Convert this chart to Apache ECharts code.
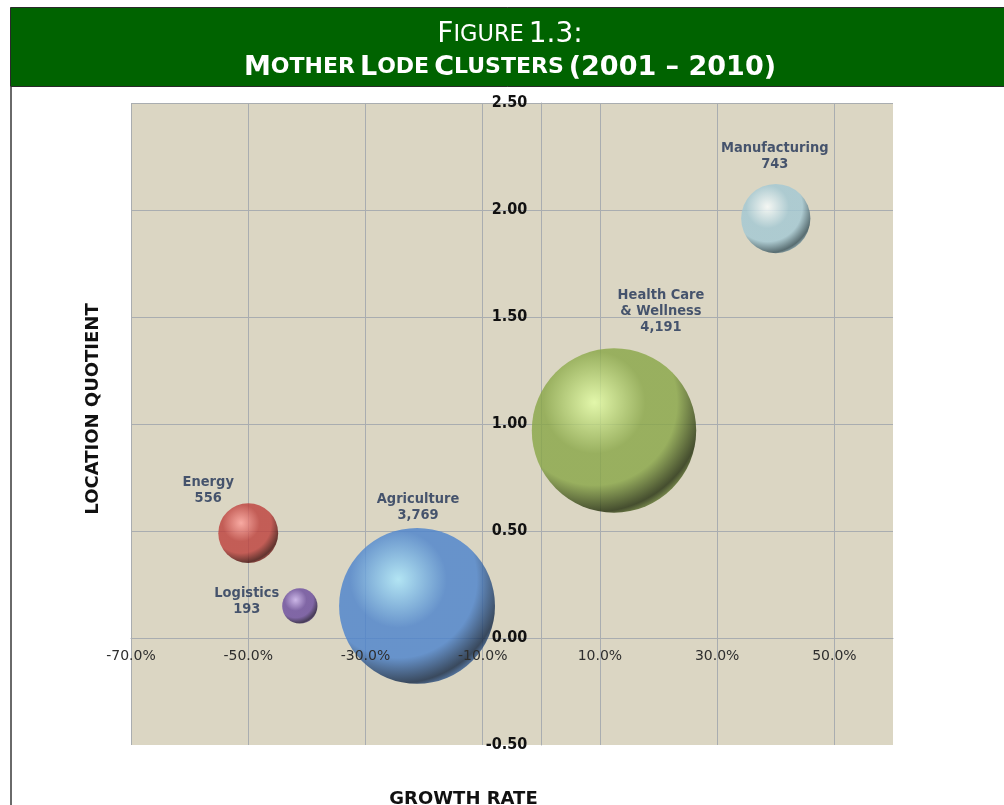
<!DOCTYPE html>
<html>
<head>
<meta charset="utf-8">
<script src="https://cdn.jsdelivr.net/npm/echarts@6/dist/echarts.min.js"></script>
<style>
  html, body { margin: 0; padding: 0; background: #ffffff; }
  #chart { width: 1004px; height: 805px; }
</style>
</head>
<body>
<div id="chart"></div>
<script>
// ---- data ----
const categories = ['Energy', 'Logistics', 'Agriculture', 'Health Care & Wellness', 'Manufacturing'];
const labelNames = ['Energy', 'Logistics', 'Agriculture', 'Health Care\n& Wellness', 'Manufacturing'];
const growthRate = [-50.0, -41.2, -21.2, 12.4, 40.0];          // percent
const locationQuotient = [0.49, 0.15, 0.15, 0.97, 1.96];
const employment = [556, 193, 3769, 4191, 743];
const xTickValues = [-70, -50, -30, -10, 10, 30, 50];
const xAxisMax = 60;
const yTickValues = [-0.5, 0, 0.5, 1.0, 1.5, 2.0, 2.5];

// ---- styling (not data) ----
const bubblePalette = [
  { hi: '#ff9f9a', mid: '#bd3f3b', dark: '#430c0a' },   // Energy
  { hi: '#c8aff0', mid: '#6a4b9e', dark: '#21153a' },   // Logistics
  { hi: '#a8e8ff', mid: '#4a82cd', dark: '#112644' },   // Agriculture
  { hi: '#e4ffa4', mid: '#88a646', dark: '#202c0a' },   // Health Care
  { hi: '#fbffff', mid: '#a2c8d4', dark: '#37525c' }    // Manufacturing
];
const labelOffsets = [[-40, -43], [-53, -5], [1, -99], [47, -119], [-1, -62]];
const gridColor = '#a9adb0';
const condensed = "'DejaVu Sans Condensed', 'DejaVu Sans', sans-serif";
const plain = "'DejaVu Sans', Verdana, sans-serif";

function bubbleColor(p) {
  return {
    type: 'radial', x: 0.38, y: 0.33, r: 0.74,
    colorStops: [
      { offset: 0, color: p.hi },
      { offset: 0.42, color: p.mid },
      { offset: 0.68, color: p.mid },
      { offset: 0.9, color: p.dark },
      { offset: 1, color: p.mid }
    ]
  };
}

const seriesData = categories.map((name, i) => ({
  name: name,
  value: [growthRate[i], locationQuotient[i], employment[i]],
  itemStyle: { color: bubbleColor(bubblePalette[i]) },
  label: { offset: labelOffsets[i] }
}));

const xMin = xTickValues[0];
const xInterval = xTickValues[1] - xTickValues[0];
const yMin = yTickValues[0];
const yMax = yTickValues[yTickValues.length - 1];
const yInterval = yTickValues[1] - yTickValues[0];

// plot rectangle and the overlay rectangles whose edges sit on the zero lines
const plot = { left: 131, top: 103, width: 762, height: 642 };
const zeroX = plot.left + (0 - xMin) / (xAxisMax - xMin) * plot.width;
const zeroY = plot.top + (yMax - 0) / (yMax - yMin) * plot.height;

const chart = echarts.init(document.getElementById('chart'), null, { renderer: 'canvas' });

const hiddenAxis = {
  show: false, type: 'value',
  axisLine: { show: false }, axisTick: { show: false }, axisLabel: { show: false }, splitLine: { show: false }
};

const option = {
  animation: false,
  backgroundColor: '#ffffff',
  title: [
    {
      left: 510, top: 21, textAlign: 'center', padding: 0,
      text: '{b|F}{s|IGURE} {b|1.3:}',
      textStyle: {
        rich: {
          b: { fontFamily: plain, fontSize: 28, color: '#ffffff', fontWeight: 'normal' },
          s: { fontFamily: plain, fontSize: 22.5, color: '#ffffff', fontWeight: 'normal' }
        }
      }
    },
    {
      left: 510, top: 54, textAlign: 'center', padding: 0,
      text: '{b|M}{s|OTHER} {b|L}{s|ODE} {b|C}{s|LUSTERS} {b|(2001 – 2010)}',
      textStyle: {
        rich: {
          b: { fontFamily: plain, fontSize: 27, color: '#ffffff', fontWeight: 'bold' },
          s: { fontFamily: plain, fontSize: 22, color: '#ffffff', fontWeight: 'bold' }
        }
      }
    }
  ],
  graphic: [
    {
      type: 'rect', z: -1,
      shape: { x: 10.5, y: 7.5, width: 1000, height: 79 },
      style: { fill: '#006300', stroke: '#2a2a2a', lineWidth: 1 }
    },
    {
      type: 'line',
      shape: { x1: 11, y1: 87, x2: 11, y2: 805 },
      style: { stroke: '#6a6a6a', lineWidth: 2 }
    },
    {
      type: 'text', x: 93.5, y: 409, rotation: Math.PI / 2,
      style: {
        text: 'LOCATION QUOTIENT', align: 'center', verticalAlign: 'middle',
        font: "bold 18px 'DejaVu Sans', Verdana, sans-serif", fill: '#111111'
      }
    },
    {
      type: 'text', x: 463.5, y: 799.5,
      style: {
        text: 'GROWTH RATE', align: 'center', verticalAlign: 'middle',
        font: "bold 18px 'DejaVu Sans', Verdana, sans-serif", fill: '#111111'
      }
    }
  ],
  grid: [
    // 0: plot area with gridlines and bubbles
    Object.assign({ show: true, backgroundColor: '#dbd6c3', borderWidth: 0 }, plot),
    // 1: x tick labels, bottom edge on y = 0
    { show: false, z: 10, left: plot.left, top: plot.top, width: plot.width, height: zeroY - plot.top },
    // 2: y tick labels, left edge on x = 0
    { show: false, z: 10, left: zeroX, top: plot.top, width: plot.left + plot.width - zeroX, height: plot.height }
  ],
  xAxis: [
    {
      gridIndex: 0, type: 'value', min: xMin, max: xAxisMax, interval: xInterval,
      axisLine: { show: true, onZero: true, lineStyle: { color: gridColor, width: 1 } },
      axisTick: { show: false },
      axisLabel: { show: false },
      splitLine: { show: true, showMaxLine: false, lineStyle: { color: gridColor, width: 1 } }
    },
    {
      gridIndex: 1, type: 'value', min: xMin, max: xAxisMax, interval: xInterval,
      position: 'bottom', z: 10,
      axisLine: { show: false, onZero: false },
      axisTick: { show: false },
      splitLine: { show: false },
      axisLabel: {
        show: true, showMaxLabel: false, margin: 11,
        fontFamily: plain, fontSize: 14, color: '#2e2e2e',
        formatter: v => v.toFixed(1) + '%'
      }
    },
    Object.assign({ gridIndex: 2, min: 0, max: xAxisMax }, hiddenAxis)
  ],
  yAxis: [
    {
      gridIndex: 0, type: 'value', min: yMin, max: yMax, interval: yInterval,
      axisLine: { show: true, onZero: true, lineStyle: { color: gridColor, width: 1 } },
      axisTick: { show: false },
      axisLabel: { show: false },
      splitLine: { show: true, showMinLine: false, lineStyle: { color: gridColor, width: 1 } }
    },
    Object.assign({ gridIndex: 1, min: 0, max: yMax }, hiddenAxis),
    {
      gridIndex: 2, type: 'value', min: yMin, max: yMax, interval: yInterval,
      position: 'left', z: 10,
      axisLine: { show: false, onZero: false },
      axisTick: { show: false },
      splitLine: { show: false },
      axisLabel: {
        show: true, margin: 14,
        fontFamily: condensed, fontWeight: 'bold', fontSize: 16, color: '#111111',
        formatter: v => v.toFixed(2)
      }
    }
  ],
  series: [
    {
      type: 'scatter',
      xAxisIndex: 0, yAxisIndex: 0,
      data: seriesData,
      symbol: 'circle',
      symbolSize: v => 2.54 * Math.sqrt(v[2]),
      label: {
        show: true, position: 'inside',
        fontFamily: condensed, fontWeight: 'bold', fontSize: 14.5, lineHeight: 16,
        color: '#1f3256',
        formatter: p => labelNames[p.dataIndex] + '\n' + employment[p.dataIndex].toLocaleString('en-US')
      },
      emphasis: { disabled: true }
    }
  ]
};

chart.setOption(option);
</script>
</body>
</html>
